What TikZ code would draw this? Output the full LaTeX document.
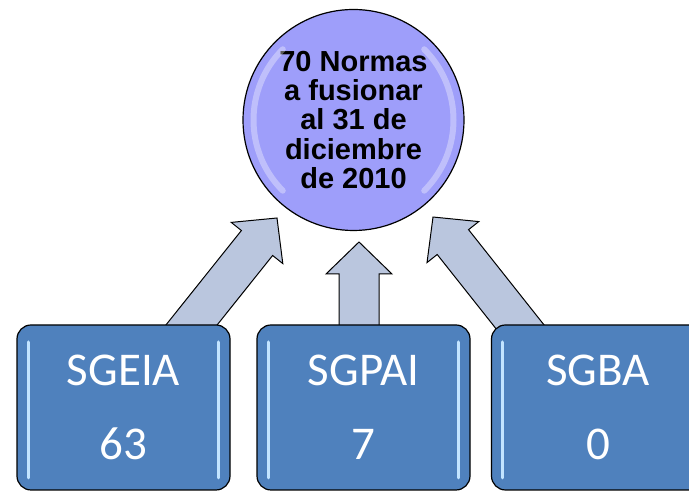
\documentclass[tikz,border=0pt]{standalone}
\usepackage{fontspec}
\setmainfont{Carlito}
\newfontfamily\arialfont{Liberation Sans}
\usetikzlibrary{calc,backgrounds}
\definecolor{boxblue}{RGB}{79,129,189}
\definecolor{glow}{RGB}{195,228,255}
\definecolor{arrowfill}{RGB}{186,198,222}
\definecolor{ballfill}{RGB}{158,158,250}
% block arrow from #1 to #2
\newcommand{\blockarrow}[2]{%
  \draw[arrowbody] let \p1=($(#2)-(#1)$), \n1={atan2(\y1,\x1)}, \n2={veclen(\x1,\y1)} in
    [shift={(#1)},rotate=\n1] (0,-20) -- (\n2-32,-20) -- (\n2-32,-33) -- (\n2,0)
    -- (\n2-32,33) -- (\n2-32,20) -- (0,20) -- cycle;}
\begin{document}
\begin{tikzpicture}[x=1pt,y=1pt,line join=round,line cap=round]
	\tikzset{
		arrowbody/.style={draw=black,line width=1pt,fill=arrowfill},
		catbox/.style={draw=black,line width=1.2pt,fill=boxblue,rounded corners=14pt,
			minimum width=213pt,minimum height=165pt,align=center,text=white,
			font=\fontsize{47}{74}\selectfont},
		ball/.style={circle,draw=black,line width=1.2pt,fill=ballfill,minimum size=221pt,
			inner sep=0pt,align=center,font=\arialfont\bfseries\fontsize{29}{29.2}\selectfont}
	}
	\useasboundingbox (0,0) rectangle (689,492);
	\node[ball] (normas) at (353.5,372) {70 Normas\\a fusionar\\al 31 de\\diciembre\\de 2010};
	\draw[white,opacity=0.35,line width=6pt] ([shift={(135:100)}]normas.center) arc (135:225:100);
	\draw[white,opacity=0.35,line width=6pt] ([shift={(-45:100)}]normas.center) arc (-45:45:100);
	\node[catbox] (sgeia) at (123.5,84.5) {SGEIA\\63};
	\node[catbox] (sgpai) at (363.5,84.5) {SGPAI\\7};
	\node[catbox] (sgba) at (598,84.5) {SGBA\\0};
	\foreach \b in {sgeia,sgpai,sgba}{
		\draw[glow,line width=3pt] ([shift={(-95.5,65.5)}]\b.center) -- ([shift={(-95.5,-70.5)}]\b.center);
		\draw[glow,line width=3pt] ([shift={(94.5,65.5)}]\b.center) -- ([shift={(94.5,-70.5)}]\b.center);
	}
	\coordinate (tailL) at ([shift={(56.5,-15)}]sgeia.north);
	\coordinate (tailM) at ([shift={(-4.5,-15)}]sgpai.north);
	\coordinate (tailR) at ([shift={(-68,-15)}]sgba.north);
	\coordinate (tipL) at ([shift={(-76.5,-98)}]normas.center);
	\coordinate (tipM) at ([shift={(5.5,-122)}]normas.center);
	\coordinate (tipR) at ([shift={(79.5,-97)}]normas.center);
	\begin{pgfonlayer}{background}
		\blockarrow{tailL}{tipL}
		\blockarrow{tailM}{tipM}
		\blockarrow{tailR}{tipR}
	\end{pgfonlayer}
\end{tikzpicture}
\end{document}
